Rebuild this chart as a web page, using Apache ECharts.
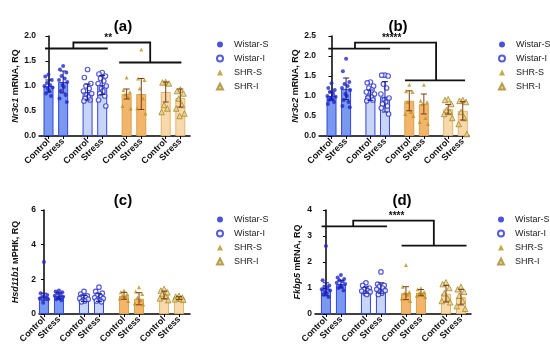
<!DOCTYPE html>
<html><head><meta charset="utf-8">
<script src="https://cdn.jsdelivr.net/npm/echarts@6/dist/echarts.min.js"></script>
<style>html,body{margin:0;padding:0;background:#fff}#c{width:550px;height:349px}</style>
</head><body><div id="c"></div>
<script>
// ---------- DATA ----------
const categories = ['Control','Stress','Control','Stress','Control','Stress','Control','Stress'];
const groups = ['Wistar-S','Wistar-I','SHR-S','SHR-I'];
const panelTitles = ['(a)','(b)','(c)','(d)'];
const geneNames = ['Nr3c1','Nr3c2','Hsd11b1','Fkbp5'];
const yNameRest = [' mRNA, RQ',' mRNA, RQ',' мРНК, RQ',' mRNA, RQ'];
const yMax = [2, 2.5, 6, 4];
const yInterval = [0.5, 0.5, 2, 1];

const a_means = [1.00, 1.08, 0.88, 1.02, 0.84, 0.84, 0.88, 0.76];
const a_sd    = [0.12, 0.22, 0.16, 0.19, 0.10, 0.31, 0.20, 0.18];
const a_points = [
  [1.23,1.19,1.12,1.06,1.02,1.00,0.97,0.95,0.90,0.85,0.80],
  [1.40,1.33,1.27,1.20,1.15,1.12,1.08,1.02,0.98,0.90,0.82,0.75,0.68],
  [1.33,1.17,1.05,1.00,0.95,0.90,0.85,0.82,0.78,0.75,0.72,0.70],
  [1.27,1.24,1.20,1.15,1.10,1.05,1.00,0.95,0.90,0.85,0.80,0.72,0.60],
  [1.17,0.92,0.88,0.83,0.78,0.60,0.55],
  [1.73,1.15,1.12,0.95,0.75,0.55,0.45],
  [1.08,1.07,1.05,0.62,0.55,0.48],
  [0.93,0.90,0.85,0.75,0.62,0.55,0.45,0.40]
];
const a_bracket = [1.75, 1.87, 1.47];
const a_stars = '**';

const b_means = [1.00, 1.18, 1.02, 0.98, 0.88, 0.80, 0.67, 0.63];
const b_sd    = [0.10, 0.27, 0.13, 0.38, 0.25, 0.25, 0.12, 0.23];
const b_points = [
  [1.32,1.20,1.15,1.10,1.05,1.00,0.98,0.95,0.92,0.90,0.85,0.80],
  [1.93,1.62,1.35,1.30,1.25,1.20,1.15,1.05,1.00,0.90,0.85,0.75,0.72],
  [1.35,1.33,1.25,1.20,1.15,1.10,1.05,1.00,0.98,0.95,0.90,0.88],
  [1.52,1.52,1.50,1.30,1.20,1.05,0.95,0.90,0.85,0.80,0.75,0.70,0.55],
  [1.28,1.12,1.10,0.85,0.60,0.55,0.50],
  [1.28,0.88,0.85,0.80,0.45,0.35,0.30],
  [0.92,0.90,0.80,0.65,0.60,0.55,0.45],
  [0.90,0.88,0.85,0.60,0.45,0.30,0.05]
];
const b_bracket = [2.185, 2.335, 1.39];
const b_stars = '*****';

const c_means = [1.00, 1.05, 0.90, 0.95, 1.05, 0.88, 1.10, 0.92];
const c_sd    = [0.20, 0.18, 0.18, 0.22, 0.20, 0.35, 0.22, 0.08];
const c_points = [
  [3.00,1.20,1.10,1.00,0.95,0.90,0.85,0.65],
  [1.35,1.30,1.25,1.20,1.10,1.05,1.00,0.95,0.90,0.85,0.80],
  [1.30,1.15,1.05,1.00,0.95,0.90,0.85,0.80,0.75,0.70],
  [1.55,1.30,1.20,1.10,1.00,0.95,0.90,0.85,0.80,0.75,0.70],
  [1.35,1.25,1.15,1.05,1.00,0.90,0.75],
  [1.55,1.30,1.15,0.95,0.80,0.60,0.55],
  [1.45,1.35,1.25,1.15,1.00,0.90,0.80],
  [1.05,1.00,0.95,0.92,0.88,0.85,0.82]
];

const d_means = [0.95, 1.15, 0.92, 1.00, 0.80, 0.82, 0.78, 0.65];
const d_sd    = [0.25, 0.15, 0.12, 0.20, 0.25, 0.12, 0.32, 0.30];
const d_points = [
  [2.62,1.30,1.10,1.05,1.00,0.95,0.90,0.85,0.80,0.75,0.65],
  [1.50,1.40,1.35,1.30,1.25,1.20,1.15,1.10,1.05,1.00,0.90],
  [1.20,1.10,1.00,0.95,0.90,0.88,0.85,0.80,0.75],
  [1.62,1.15,1.10,1.05,1.00,0.95,0.90,0.85,0.80,0.75],
  [1.88,1.05,0.85,0.80,0.75,0.60,0.50],
  [1.00,0.95,0.85,0.80,0.75,0.70,0.65],
  [1.22,1.15,1.00,0.80,0.60,0.50,0.45],
  [1.05,0.95,0.85,0.70,0.50,0.30,0.20]
];
const d_bracket = [3.37, 3.59, 2.63];
const d_stars = '****';

const panels = [
  {means:a_means, sd:a_sd, points:a_points, bracket:a_bracket, stars:a_stars},
  {means:b_means, sd:b_sd, points:b_points, bracket:b_bracket, stars:b_stars},
  {means:c_means, sd:c_sd, points:c_points, bracket:null, stars:null},
  {means:d_means, sd:d_sd, points:d_points, bracket:d_bracket, stars:d_stars}
];

// ---------- LAYOUT / STYLE ----------
const FONT = 'Liberation Sans, Arial, sans-serif';
const PAIR = 2.67; // spacing between group pairs in x units
const xPos = categories.map((c, i) => Math.floor(i / 2) * PAIR + (i % 2));
const layout = [
  {l:39,  t:36,  r:190, b:136, xmin:-0.65, xmax:9.67, gap:19, title:[118,14], legend:[211,35], starX:4.08,
   br:{l1:-0.24, l2:4.05, conn1:1.70, conn2:6.95, r1:4.83, r2:9.08}},
  {l:319, t:36,  r:469, b:136, xmin:-0.86, xmax:9.44, gap:14, title:[393,14], legend:[493,35], starX:4.13,
   br:{l1:-0.22, l2:4.02, conn1:1.61, conn2:7.18, r1:5.05, r2:9.17}},
  {l:39,  t:210, r:190, b:314, xmin:-0.33, xmax:9.74, gap:19, title:[118,188], legend:[211,210], starX:0, br:null},
  {l:315, t:210, r:471, b:314, xmin:-0.73, xmax:9.68, gap:13, title:[397,188], legend:[492,210], starX:4.71,
   br:{l1:-0.29, l2:4.08, conn1:1.82, conn2:7.20, r1:5.05, r2:9.38}}
];
const barFill   = ['#7a98ef', '#c9d5f7', '#f3b46c', '#f8d9ab'];
const barBorder = ['#3346d8', '#3346d8', '#d9a24a', '#e2b56a'];
const errColor  = ['#1b1b86', '#1b1b86', '#7e3d12', '#7e3d12'];
const ptStyle = [
  {symbol:'circle', size:4, itemStyle:{color:'#1f27cf'}},
  {symbol:'circle', size:4.5, itemStyle:{color:'#ffffff', borderColor:'#2a33d0', borderWidth:1.2}},
  {symbol:'triangle', size:4, itemStyle:{color:'#b8951d'}},
  {symbol:'triangle', size:5.5, itemStyle:{color:'#e6d28e', borderColor:'#a88a2c', borderWidth:1}}
];
const jitter = [0, -0.22, 0.22, -0.11, 0.11, -0.28, 0.28, -0.05, 0.05, -0.17, 0.17, -0.25, 0.25];

const option = {
  backgroundColor: '#ffffff',
  animation: false,
  textStyle: {fontFamily: FONT},
  title: [], legend: [], grid: [], xAxis: [], yAxis: [], series: []
};

panels.forEach((p, k) => {
  const L = layout[k];
  option.title.push({text: panelTitles[k], left: L.title[0], top: L.title[1], textAlign: 'center',
    textStyle: {fontSize: 15, fontWeight: 'bold', color: '#000', fontFamily: FONT}});
  option.legend.push({
    orient: 'vertical', left: L.legend[0], top: L.legend[1], itemWidth: 6, itemHeight: 6, itemGap: 5,
    textStyle: {fontSize: 9, color: '#222', fontFamily: FONT, padding: [0, 0, 0, 6]}, selectedMode: false,
    data: groups.map((g, gi) => ({name: g, icon: ptStyle[gi].symbol}))
  });
  option.grid.push({left: L.l, top: L.t, width: L.r - L.l, height: L.b - L.t,
    containLabel: false, outerBoundsMode: 'none'});
  option.xAxis.push({
    type: 'value', gridIndex: k, min: L.xmin, max: L.xmax,
    axisLine: {show: true, onZero: false, lineStyle: {color: '#000', width: 1.5}},
    axisTick: {show: true, length: 3, customValues: xPos, lineStyle: {color: '#000', width: 1}},
    axisLabel: {show: true, customValues: xPos, rotate: 45, margin: 4, fontSize: 9, fontWeight: 'bold',
      color: '#111', fontFamily: FONT,
      formatter: v => { const i = xPos.findIndex(q => Math.abs(q - v) < 1e-6); return i >= 0 ? categories[i] : ''; }},
    splitLine: {show: false}
  });
  option.yAxis.push({
    type: 'value', gridIndex: k, min: 0, max: yMax[k], interval: yInterval[k],
    name: '{i|' + geneNames[k] + '}{n|' + yNameRest[k] + '}', nameLocation: 'middle', nameGap: L.gap,
    nameTextStyle: {fontSize: 9, color: '#111', fontFamily: FONT,
      rich: {i: {fontStyle: 'italic', fontWeight: 'bold', fontSize: 9, fontFamily: FONT, color: '#111'},
             n: {fontWeight: 'bold', fontSize: 9, fontFamily: FONT, color: '#111'}}},
    axisLine: {show: true, lineStyle: {color: '#000', width: 1.5}},
    axisTick: {show: true, length: 3, lineStyle: {color: '#000', width: 1}},
    axisLabel: {fontSize: 8.5, fontWeight: 'bold', color: '#111', margin: 3, fontFamily: FONT,
      formatter: v => yInterval[k] < 1 ? v.toFixed(1) : String(v)},
    splitLine: {show: false}
  });
  // bars
  option.series.push({
    type: 'bar', name: 'bars' + k, xAxisIndex: k, yAxisIndex: k, barWidth: 10, z: 1,
    data: p.means.map((m, i) => ({value: [xPos[i], m],
      itemStyle: {color: barFill[Math.floor(i / 2)], borderColor: barBorder[Math.floor(i / 2)], borderWidth: 1}}))
  });
  // scatter points per group
  groups.forEach((g, gi) => {
    const data = [];
    [0, 1].forEach(w => {
      const ci = gi * 2 + w;
      p.points[ci].forEach((v, j) => data.push([xPos[ci] + jitter[j % jitter.length], v]));
    });
    option.series.push({type: 'scatter', name: g, xAxisIndex: k, yAxisIndex: k, z: 3, data: data,
      symbol: ptStyle[gi].symbol, symbolSize: ptStyle[gi].size, itemStyle: ptStyle[gi].itemStyle});
  });
  // error bars
  option.series.push({
    type: 'custom', name: 'err' + k, xAxisIndex: k, yAxisIndex: k, z: 4,
    data: p.means.map((m, i) => [xPos[i], m, p.sd[i], Math.floor(i / 2)]),
    renderItem: (params, api) => {
      const x = api.value(0), m = api.value(1), s = api.value(2), gi = api.value(3);
      const top = api.coord([x, m + s]), bot = api.coord([x, Math.max(0, m - s)]);
      const col = errColor[gi], w = 3;
      const st = {stroke: col, lineWidth: 1};
      return {type: 'group', children: [
        {type: 'line', shape: {x1: top[0], y1: top[1], x2: bot[0], y2: bot[1]}, style: st},
        {type: 'line', shape: {x1: top[0] - w, y1: top[1], x2: top[0] + w, y2: top[1]}, style: st},
        {type: 'line', shape: {x1: bot[0] - w, y1: bot[1], x2: bot[0] + w, y2: bot[1]}, style: st}
      ]};
    }
  });
  // significance bracket
  if (p.bracket) {
    const B = L.br;
    option.series.push({
      type: 'custom', name: 'sig' + k, xAxisIndex: k, yAxisIndex: k, z: 5, silent: true,
      data: [[0, p.bracket[0], p.bracket[1], p.bracket[2]]],
      renderItem: (params, api) => {
        const yl = api.value(1), yt = api.value(2), yr = api.value(3);
        const c = (x, y) => api.coord([x, y]);
        const st = {stroke: '#111', lineWidth: 1.8};
        const a1 = c(B.l1, yl), a2 = c(B.l2, yl), r1 = c(B.r1, yr), r2 = c(B.r2, yr);
        const k1 = c(B.conn1, yl), k2 = c(B.conn1, yt), k3 = c(B.conn2, yt), k4 = c(B.conn2, yr);
        const s = c(L.starX, yt);
        return {type: 'group', children: [
          {type: 'line', shape: {x1: a1[0], y1: a1[1], x2: a2[0], y2: a2[1]}, style: st},
          {type: 'line', shape: {x1: r1[0], y1: r1[1], x2: r2[0], y2: r2[1]}, style: st},
          {type: 'polyline', shape: {points: [k1, k2, k3, k4]}, style: Object.assign({fill: 'none'}, st)},
          {type: 'text', x: s[0], y: s[1] + 1, style: {text: p.stars, fontSize: 10, fontWeight: 'bold',
            fontFamily: FONT, fill: '#111', align: 'center', verticalAlign: 'bottom'}}
        ]};
      }
    });
  }
});

const chart = echarts.init(document.getElementById('c'), null, {renderer: 'canvas'});
chart.setOption(option);
</script></body></html>
